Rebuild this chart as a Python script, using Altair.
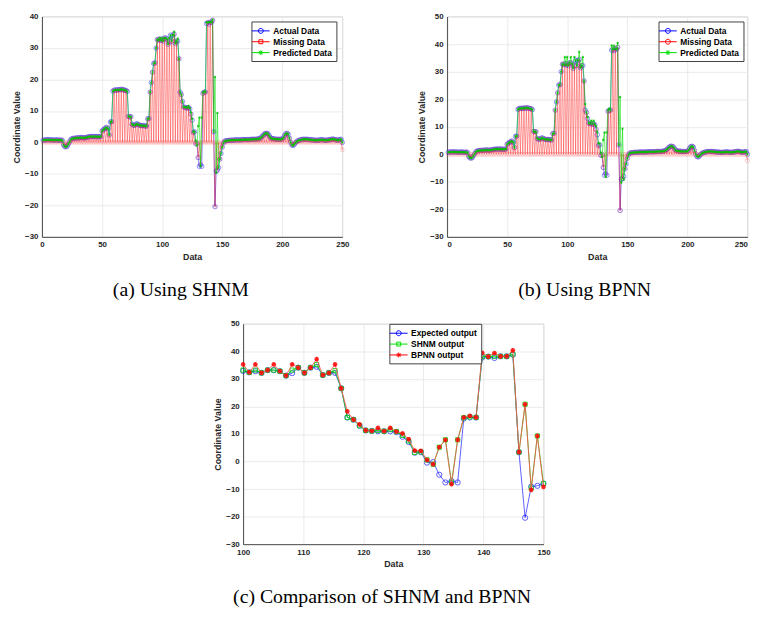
import altair as alt
import numpy as np
import pandas as pd

# ---------------- data ----------------
# Actual data, x = 1..250, in segments
seg_01_17 = [0.7, 0.8, 0.8, 0.8, 0.9, 0.8, 0.8, 0.8, 0.8, 0.7, 0.8, 0.8, 0.8, 0.7, 0.7, 0.8, 0.6]
seg_18_22 = [-0.8, -1.3, -1.4, -1.2, -0.5]
seg_23_26 = [0.2, 0.9, 1.2, 1.3]
seg_27_47 = [1.3, 1.4, 1.4, 1.5, 1.4, 1.5, 1.6, 1.5, 1.4, 1.5, 1.6, 1.7, 1.8, 1.8, 1.9,
             1.9, 1.8, 1.9, 1.9, 1.8, 1.8]
seg_48_58 = [1.8, 1.9, 3.6, 4.0, 4.3, 4.6, 4.8, 4.3, 2.4, 6.5, 6.6]
seg_59_71 = [16.3, 16.6, 16.7, 16.6, 16.7, 16.8, 16.7, 16.9, 16.8, 16.7, 16.6, 16.5, 16.2]
seg_72_74 = [8.3, 8.1, 8.2]
seg_75_87 = [5.8, 5.5, 5.4, 5.6, 6.0, 5.7, 5.5, 5.4, 5.3, 5.4, 5.3, 5.2, 5.2]
seg_88_97 = [7.5, 7.6, 16.0, 19.0, 22.3, 25.1, 25.3, 30.0, 32.7, 32.5]
# window shown in panel (c) (50 samples)
expected = [32.9, 32.4, 32.8, 32.2, 33.2, 33.2, 32.8, 31.2, 32.1, 34.1,
            32.2, 34.1, 34.4, 31.4, 32.2, 32.2, 26.6, 16.0, 15.2, 13.0,
            11.3, 11.1, 11.0, 11.0, 11.0, 10.7, 9.0, 7.1, 3.2, 3.4,
            -0.4, -0.2, -4.8, -7.6, -7.1, -7.6, 15.6, 16.0, 16.0, 37.8,
            38.1, 37.6, 38.2, 38.2, 38.8, 3.4, -20.4, -9.1, -8.8, -8.0]
shnm = [33.2, 32.4, 33.2, 32.2, 33.2, 33.2, 32.8, 31.2, 33.2, 34.1,
        32.2, 34.1, 35.2, 31.4, 32.2, 33.0, 26.6, 16.0, 15.2, 13.0,
        11.3, 11.1, 11.3, 11.0, 11.6, 10.9, 9.5, 7.5, 3.3, 3.5,
        0.6, -1.0, 5.2, 7.9, -7.6, 7.9, 15.9, 16.2, 16.0, 38.2,
        38.1, 38.2, 38.2, 38.2, 39.0, 3.4, 20.8, -9.6, 9.3, -8.0]
bpnn = [35.3, 32.4, 35.3, 32.2, 33.2, 35.3, 32.8, 31.2, 35.3, 34.1,
        32.2, 34.1, 37.2, 31.4, 32.2, 35.3, 26.6, 18.2, 15.2, 13.5,
        11.3, 11.1, 12.2, 11.0, 12.2, 10.9, 10.2, 8.1, 4.0, 3.9,
        0.6, -1.0, 5.2, 7.9, -8.2, 7.9, 16.0, 16.6, 16.0, 39.5,
        38.1, 39.4, 38.2, 38.2, 40.4, 3.4, 20.8, -10.3, 9.3, -9.2]
seg_148_153 = [-5.3, -3.5, -1.5, -0.2, 0.4, 0.5]
seg_154_180 = [0.6, 0.6, 0.7, 0.7, 0.7, 0.7, 0.8, 0.8, 0.8, 0.8, 0.8, 0.8, 0.8, 0.9, 0.9,
               0.9, 0.9, 0.9, 0.9, 0.9, 1.0, 1.0, 1.0, 1.0, 1.0, 1.1, 1.1]
seg_181_192 = [1.2, 1.4, 1.8, 2.2, 2.6, 2.9, 2.9, 2.8, 2.2, 1.6, 1.3, 1.2]
seg_193_200 = [1.1, 1.1, 1.0, 1.0, 1.0, 1.0, 1.0, 1.1]
seg_201_211 = [1.5, 2.3, 2.8, 2.9, 2.6, 1.3, 0.0, -0.8, -1.0, -0.6, -0.1]
seg_212_250 = [0.3, 0.5, 0.7, 0.8, 0.9, 1.0, 1.0, 1.0, 1.0, 1.0, 0.9, 0.9, 0.8, 0.8, 0.8,
               0.7, 0.7, 0.7, 0.7, 0.8, 0.8, 0.9, 0.8, 0.7, 0.7, 0.7, 0.8, 0.8, 0.9, 1.0,
               1.1, 1.0, 0.9, 0.8, 0.7, 0.8, 0.9, 1.0, 0.0]
missing_last = -2.3

head = seg_01_17 + seg_18_22 + seg_23_26 + seg_27_47 + seg_48_58 + seg_59_71 + seg_72_74 + seg_75_87 + seg_88_97
tail = seg_148_153 + seg_154_180 + seg_181_192 + seg_193_200 + seg_201_211 + seg_212_250
actual = head + expected + tail
x_full = list(range(1, len(actual) + 1))
missing = [v if (xx % 2 == 0) else 0.0 for xx, v in zip(x_full, actual)]
missing[-1] = missing_last
pred_shnm = head + shnm + tail
pred_bpnn = head + bpnn + tail

x_c = list(np.linspace(100, 150, len(expected)))

top_labels = ["Actual Data", "Missing Data", "Predicted Data"]
c_labels = ["Expected output", "SHNM output", "BPNN output"]
x_ticks_top = [0, 50, 100, 150, 200, 250]
y_ticks_a = [-30, -20, -10, 0, 10, 20, 30, 40]
y_ticks_b = [-30, -20, -10, 0, 10, 20, 30, 40, 50]
x_ticks_c = [100, 110, 120, 130, 140, 150]

# ---------------- styles ----------------
BLUE, RED, GREEN = "#0000ff", "#ff0000", "#00e000"
STAR = "M-1,0H1M0,-1V1M-0.7,-0.7L0.7,0.7M-0.7,0.7L0.7,-0.7"
LEG_CIRCLE = "M-1.8,0H1.8M0.5,0A0.5,0.5 0 1,1 -0.5,0A0.5,0.5 0 1,1 0.5,0"
LEG_SQUARE = "M-1.8,0H1.8M-0.4,-0.4H0.4V0.4H-0.4Z"
LEG_STAR = "M-1.8,0H1.8M-0.5,0H0.5M0,-0.5V0.5M-0.35,-0.35L0.35,0.35M-0.35,0.35L0.35,-0.35"
W, H = 304, 223
CAP = dict(orient="bottom", frame="bounds", anchor="middle", font="Liberation Serif",
           fontSize=20, fontWeight="normal", color="black", offset=19)


def legend_props(lx, ly):
    return dict(orient="none", legendX=lx, legendY=ly, title=None, direction="vertical",
                fillColor="white", strokeColor="#404040", padding=4, cornerRadius=0,
                labelFont="Liberation Sans", labelFontSize=8.5, labelFontWeight="bold",
                labelColor="black", symbolSize=100, symbolStrokeWidth=1,
                symbolFillColor="transparent", labelOffset=7, rowPadding=1)


def legend_layer(df, xenc, yenc, labels, colors, paths, lx, ly):
    lp = legend_props(lx, ly)
    return alt.Chart(df).transform_filter("false").mark_point(filled=False, opacity=1).encode(
        x=xenc, y=yenc,
        color=alt.Color("series:N", scale=alt.Scale(domain=labels, range=colors), legend=alt.Legend(**lp)),
        shape=alt.Shape("series:N", scale=alt.Scale(domain=labels, range=paths), legend=alt.Legend(**lp)),
    )


def top_panel(pred, miss_shape, miss_size, ydom, yticks, lx, ly, caption, miss_leg, flush):
    df = pd.DataFrame({"x": x_full, "actual": actual, "missing": missing, "pred": pred})
    df["series"] = "Actual Data"
    xenc = alt.X("x:Q", scale=alt.Scale(domain=[0, 250], nice=False, zero=False),
                 axis=alt.Axis(values=x_ticks_top, title="Data", format="d", labelFlush=flush))

    def yenc(f):
        return alt.Y(f"{f}:Q", scale=alt.Scale(domain=ydom, nice=False, zero=False),
                     axis=alt.Axis(values=yticks, title="Coordinate Value", format="d"))

    base = alt.Chart(df)
    layers = [
        base.mark_line(color=BLUE, strokeWidth=0.8, opacity=0.6).encode(x=xenc, y=yenc("actual")),
        base.mark_point(shape="circle", filled=False, color="#2a2aff", size=20, strokeWidth=0.8,
                        opacity=0.65).encode(x=xenc, y=yenc("actual")),
        base.mark_line(color=RED, strokeWidth=0.7, opacity=0.55).encode(x=xenc, y=yenc("missing")),
        base.mark_point(shape=miss_shape, filled=False, color="#ff6060", size=miss_size, strokeWidth=0.6,
                        opacity=0.5).encode(x=xenc, y=yenc("missing")),
        base.mark_line(color=GREEN, strokeWidth=0.8, opacity=0.75).encode(x=xenc, y=yenc("pred")),
        base.mark_point(shape=STAR, filled=False, color="#00c000", size=6, strokeWidth=0.7,
                        opacity=0.9).encode(x=xenc, y=yenc("pred")),
        legend_layer(df, xenc, yenc("actual"), top_labels, [BLUE, RED, GREEN],
                     [LEG_CIRCLE, miss_leg, LEG_STAR], lx, ly),
    ]
    return alt.layer(*layers).properties(width=W, height=H, title=alt.TitleParams(caption, **CAP))


panel_a = top_panel(pred_shnm, "square", 10, [-30, 40], y_ticks_a, 212, 5, "(a) Using SHNM",
                    LEG_SQUARE, False)
panel_b = top_panel(pred_bpnn, "circle", 18, [-30, 50], y_ticks_b, 214, 5, "(b) Using BPNN",
                    LEG_CIRCLE, True)

# panel (c)
dfc = pd.DataFrame({"x": x_c, "expected": expected, "shnm": shnm, "bpnn": bpnn})
dfc["series"] = "Expected output"
xc = alt.X("x:Q", scale=alt.Scale(domain=[100, 150], nice=False, zero=False),
           axis=alt.Axis(values=x_ticks_c, title="Data", format="d", labelFlush=False))


def yc(f):
    return alt.Y(f"{f}:Q", scale=alt.Scale(domain=[-30, 50], nice=False, zero=False),
                 axis=alt.Axis(values=y_ticks_b, title="Coordinate Value", format="d"))


bc = alt.Chart(dfc)
panel_c = alt.layer(
    bc.mark_line(color=BLUE, strokeWidth=0.9, opacity=0.7).encode(x=xc, y=yc("expected")),
    bc.mark_point(shape="circle", filled=False, color=BLUE, size=28, strokeWidth=0.9,
                  opacity=0.7).encode(x=xc, y=yc("expected")),
    bc.mark_line(color=GREEN, strokeWidth=0.9, opacity=0.9).encode(x=xc, y=yc("shnm")),
    bc.mark_point(shape="square", filled=False, color="#00d000", size=18, strokeWidth=0.9,
                  opacity=0.9).encode(x=xc, y=yc("shnm")),
    bc.mark_line(color="#ff5050", strokeWidth=0.9, opacity=0.95).encode(x=xc, y=yc("bpnn")),
    bc.mark_point(shape=STAR, filled=False, color=RED, size=22, strokeWidth=1.4,
                  opacity=0.85).encode(x=xc, y=yc("bpnn")),
    legend_layer(dfc, xc, yc("expected"), c_labels, [BLUE, GREEN, RED],
                 [LEG_CIRCLE, LEG_SQUARE, LEG_STAR], 148, 0),
).properties(width=W, height=H,
             title=alt.TitleParams("(c) Comparison of SHNM and BPNN", **CAP))

top_row = alt.hconcat(panel_a, panel_b, spacing=68).resolve_scale(
    color="independent", shape="independent").resolve_legend(color="independent", shape="independent")

chart = alt.vconcat(top_row, panel_c, spacing=18, center=True).resolve_scale(
    color="independent", shape="independent"
).resolve_legend(
    color="independent", shape="independent"
).properties(
    padding={"left": 4, "top": 0, "right": 0, "bottom": 0}
).configure_view(
    stroke="#c8c8c8", strokeWidth=0.8
).configure_axis(
    grid=True, gridColor="#e6e6e6", gridWidth=0.8, domainColor="#262626", domainWidth=0.8,
    ticks=False, labelFont="Liberation Sans", labelFontSize=8, labelFontWeight="bold",
    labelColor="#262626", titleFont="Liberation Sans", titleFontSize=9,
    titleFontWeight="bold", titleColor="#262626", labelPadding=4, labelOverlap=False
).configure_axisX(titlePadding=4).configure_axisY(titlePadding=3)

chart.save("out.html", embed_options={"renderer": "svg", "actions": False})
